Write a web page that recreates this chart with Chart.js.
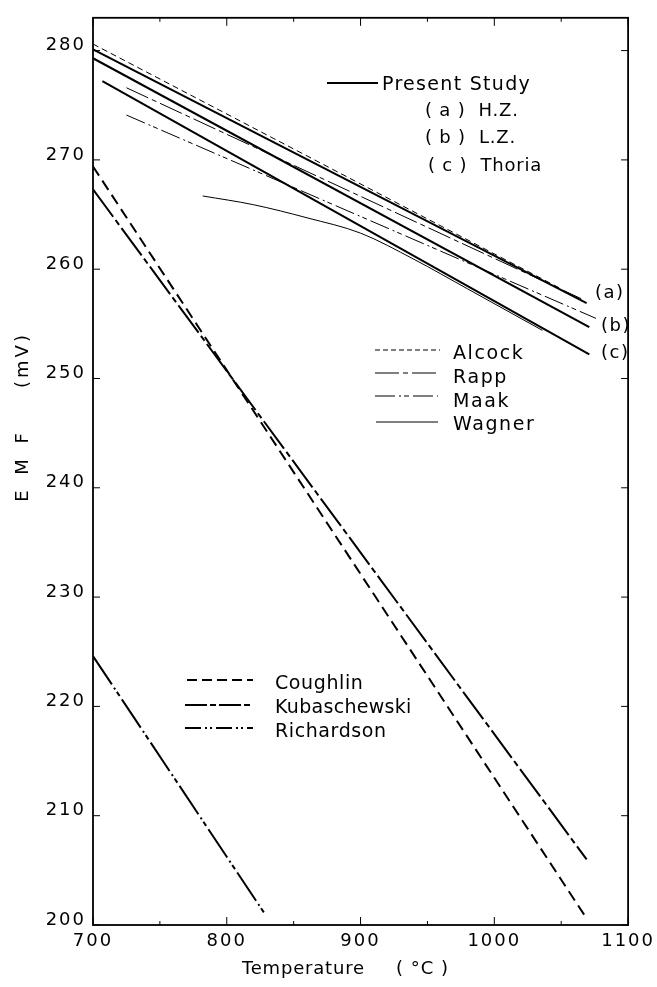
<!DOCTYPE html>
<html>
<head>
<meta charset="utf-8">
<script src="https://cdn.jsdelivr.net/npm/chart.js@4.4.1/dist/chart.umd.min.js"></script>
<style>
  html, body { margin: 0; padding: 0; background: #fff; }
  #wrap { position: relative; width: 657px; height: 987px; overflow: hidden; }
  #chart { position: absolute; left: 0; top: 0; }
  #keys { position: absolute; left: 0; top: 0; }
  .t { position: absolute; font-family: "DejaVu Sans", sans-serif; font-size: 18px; color: #000;
       white-space: pre; line-height: 20px; height: 20px; margin-top: -10px; letter-spacing: 1px; }
</style>
</head>
<body>
<div id="wrap">
  <canvas id="chart" width="657" height="987"></canvas>
  <svg id="keys" width="657" height="987"></svg>
</div>
<script>
// axis ticks
const xTicks = [700, 800, 900, 1000, 1100];
const xMinorTicks = [750, 850, 950, 1050];
const yTicks = [200, 210, 220, 230, 240, 250, 260, 270, 280];

// Present Study (temperature, EMF mV)
const hzT = [700, 1069];
const hzV = [280.1, 256.9];
const lzT = [700, 1071];
const lzV = [279.3, 254.7];
const thoriaT = [707, 1071];
const thoriaV = [277.2, 252.2];

// other studies, upper group
const alcockT = [700, 1050];
const alcockV = [280.6, 258.2];
const rappT = [725, 1065];
const rappV = [276.6, 257.3];
const maakT = [725, 1076];
const maakV = [274.1, 255.5];
const wagnerT = [782, 820, 860, 900, 940, 980, 1036];
const wagnerV = [266.7, 265.9, 264.7, 263.3, 260.9, 258.2, 254.4];

// lower group
const coughlinT = [700, 1069];
const coughlinV = [269.4, 200.6];
const kubaT = [700, 1069];
const kubaV = [267.3, 206.0];
const richT = [700, 828];
const richV = [224.6, 201.1];

function pts(ts, vs) {
  return ts.map((t, i) => ({ x: t, y: vs[i] }));
}

function line(label, ts, vs, width, dash, extra) {
  return Object.assign({
    label: label,
    data: pts(ts, vs),
    borderColor: '#000',
    borderWidth: width,
    borderDash: dash,
    pointRadius: 0,
    fill: false,
    tension: 0,
  }, extra || {});
}

const framePlugin = {
  id: 'frame',
  beforeDraw(chart) {
    chart.ctx.letterSpacing = '2px';
  },
  afterDatasetsDraw(chart) {
    const { ctx, chartArea: a, scales } = chart;
    const x = scales.x, y = scales.y;
    ctx.save();
    ctx.strokeStyle = '#000';
    ctx.setLineDash([]);
    ctx.lineWidth = 1.8;
    ctx.strokeRect(a.left, a.top, a.right - a.left, a.bottom - a.top);
    ctx.lineWidth = 1;
    ctx.beginPath();
    xTicks.concat(xMinorTicks).forEach(v => {
      const px = x.getPixelForValue(v);
      const len = xTicks.includes(v) ? 8 : 4;
      ctx.moveTo(px, a.bottom); ctx.lineTo(px, a.bottom - len);
      ctx.moveTo(px, a.top); ctx.lineTo(px, a.top + len);
    });
    yTicks.forEach(v => {
      const py = y.getPixelForValue(v);
      ctx.moveTo(a.left, py); ctx.lineTo(a.left + 7, py);
      ctx.moveTo(a.right, py); ctx.lineTo(a.right - 7, py);
    });
    ctx.stroke();
    ctx.restore();
  }
};

const tickFont = { family: 'DejaVu Sans', size: 18 };

new Chart(document.getElementById('chart'), {
  type: 'line',
  data: {
    datasets: [
      line('H.Z.', hzT, hzV, 2, []),
      line('L.Z.', lzT, lzV, 2, []),
      line('Thoria', thoriaT, thoriaV, 2, []),
      line('Alcock', alcockT, alcockV, 1, [6, 4]),
      line('Rapp', rappT, rappV, 1, [24, 4, 5, 4]),
      line('Maak', maakT, maakV, 1, [20, 4, 2, 3, 5, 4]),
      line('Wagner', wagnerT, wagnerV, 1, [], { cubicInterpolationMode: 'monotone' }),
      line('Coughlin', coughlinT, coughlinV, 2, [11, 6]),
      line('Kubaschewski', kubaT, kubaV, 2, [34, 4, 6, 4]),
      line('Richardson', richT, richV, 2, [34, 4, 2, 3, 5, 4]),
    ],
  },
  options: {
    responsive: false,
    animation: false,
    devicePixelRatio: 1,
    layout: { padding: { left: 0, right: 24, top: 12, bottom: 0 } },
    plugins: { legend: { display: false }, tooltip: { enabled: false } },
    scales: {
      x: {
        type: 'linear',
        min: 700,
        max: 1100,
        afterBuildTicks: s => { s.ticks = xTicks.map(v => ({ value: v })); },
        afterFit: s => { s.height = 62; },
        grid: { display: false, drawTicks: false },
        border: { display: false },
        ticks: { color: '#000', font: tickFont, padding: 6, maxRotation: 0, callback: v => String(v) },
      },
      y: {
        type: 'linear',
        min: 200,
        max: 283,
        afterBuildTicks: s => { s.ticks = yTicks.map(v => ({ value: v })); },
        afterFit: s => { s.width = 93; },
        grid: { display: false, drawTicks: false },
        border: { display: false },
        ticks: { color: '#000', font: tickFont, padding: 7, labelOffset: -5, callback: v => String(v) },
      },
    },
  },
  plugins: [framePlugin],
});

// key text
const wrap = document.getElementById('wrap');
function text(str, left, cy, extra) {
  const d = document.createElement('div');
  d.className = 't';
  d.textContent = str;
  d.style.left = left + 'px';
  d.style.top = cy + 'px';
  if (extra) Object.assign(d.style, extra);
  wrap.appendChild(d);
  return d;
}

text('Present Study', 382, 83, { fontSize: '19px', letterSpacing: '1.3px' });
text('( a )  H.Z.', 425, 110, { letterSpacing: '0.8px' });
text('( b )  L.Z.', 425, 137, { letterSpacing: '0.8px' });
text('( c )  Thoria', 428, 165, { letterSpacing: '0.8px' });
text('(a)', 595, 292, { letterSpacing: '1.5px' });
text('(b)', 601, 325, { letterSpacing: '1.5px' });
text('(c)', 601, 352, { letterSpacing: '1.5px' });
text('Alcock', 453, 352, { fontSize: '19px', letterSpacing: '1.6px' });
text('Rapp', 453, 376, { fontSize: '19px', letterSpacing: '1.6px' });
text('Maak', 453, 400, { fontSize: '19px', letterSpacing: '1.6px' });
text('Wagner', 453, 423, { fontSize: '19px', letterSpacing: '1.6px' });
text('Coughlin', 275, 682, { fontSize: '19px', letterSpacing: '0.6px' });
text('Kubaschewski', 275, 706, { fontSize: '19px', letterSpacing: '0.3px' });
text('Richardson', 275, 730, { fontSize: '19px', letterSpacing: '0.6px' });
text('Temperature', 242, 968, { letterSpacing: '0.8px' });
text('( °C )', 396, 968, { letterSpacing: '1px' });

// rotated y axis title, two parts
const rot = { transform: 'rotate(-90deg)', width: '120px', textAlign: 'center' };
text('E M F', 22 - 60, 465, Object.assign({}, rot, { letterSpacing: '5px' }));
text('(mV)', 22 - 60, 360, Object.assign({}, rot, { letterSpacing: '3px' }));

// key line samples
const svg = document.getElementById('keys');
function keyLine(x1, x2, y, w, dash) {
  const l = document.createElementNS('http://www.w3.org/2000/svg', 'line');
  l.setAttribute('x1', x1); l.setAttribute('x2', x2);
  l.setAttribute('y1', y); l.setAttribute('y2', y);
  l.setAttribute('stroke', '#000');
  l.setAttribute('stroke-width', w);
  if (dash) l.setAttribute('stroke-dasharray', dash);
  svg.appendChild(l);
}
keyLine(327, 378, 83, 2, '');
keyLine(375, 440, 350, 1, '5 3');
keyLine(375, 438, 373, 1, '24 4 5 4');
keyLine(375, 438, 396, 1, '20 4 2 3 5 4');
keyLine(376, 438, 422, 1.2, '');
keyLine(187, 253, 680, 2, '10 5');
keyLine(185, 253, 705, 2, '22 3 6 3');
keyLine(185, 253, 728, 2, '16 4 2 3 2 4');
</script>
</body>
</html>
